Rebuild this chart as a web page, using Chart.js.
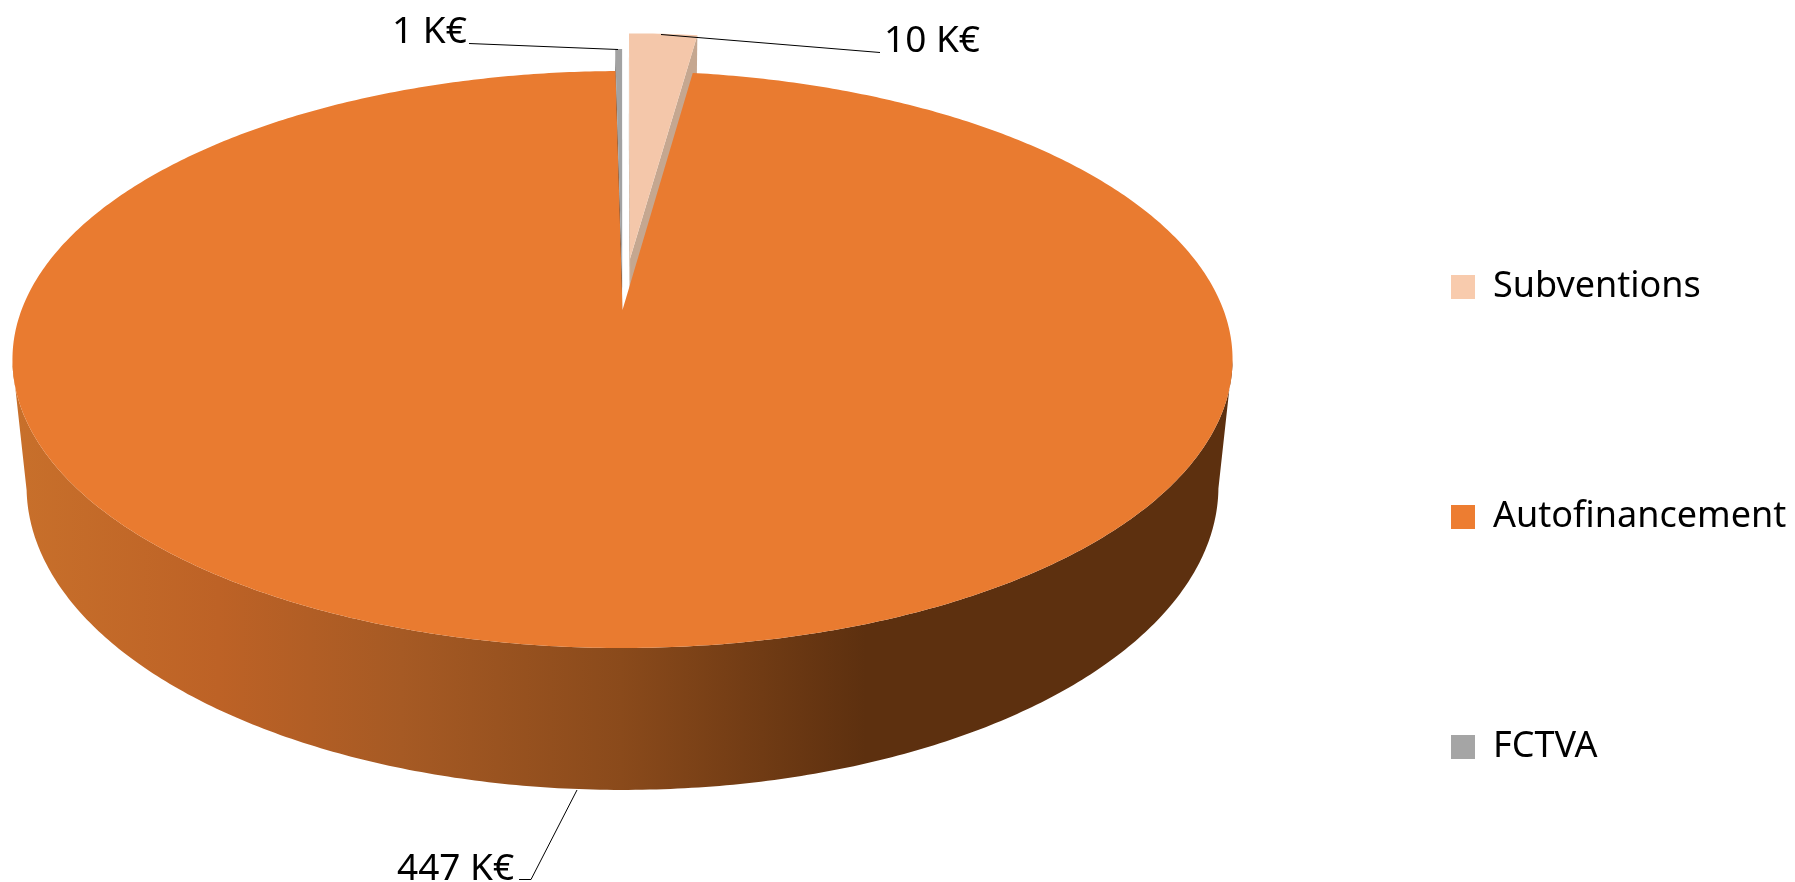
<!DOCTYPE html>
<html lang="fr">

<head>
  <meta charset="UTF-8" />
  <title>Financement</title>
  <script src="https://cdn.jsdelivr.net/npm/chart.js"></script>
  <style>
    * {
      margin: 0;
      padding: 0;
    }

    body {
      background: #fff;
      overflow: hidden;
    }

    canvas {
      display: block;
    }
  </style>
</head>

<body>
  <canvas id="pie" width="1795" height="882"></canvas>

  <script>
    const categories = ['Subventions', 'Autofinancement', 'FCTVA'];
    const amounts = [10, 447, 1];
    const unit = ' K€';

    const sliceColors = ['#f8cbad', '#ed7d31', '#a5a5a5'];
    const faceColors = ['#c5a790', '#000000', '#4a4a4a'];
    // exploded distance of each slice, in hundredths of the pie radius
    const explode = [19, 0, 11];

    // perspective of the disc: cx,cy = centre on screen, a,b = scale, p = depth
    // c,q = how far the lower face is moved down and back
    const view = { cx: 622.5, cy: 310, a: 601, b: 280, p: 0.1716, c: 128.6, q: 0.023 };

    function project(u, v, h) {
      const w = 1 + view.p * v + view.q * h;
      return [view.cx + view.a * u / w, view.cy - (view.b * v - view.c * h) / w];
    }

    class Arc3d extends Chart.ArcElement {
      static id = 'arc3d';

      draw(ctx) {
        const d = this.options.offset / 100;
        const mid = (this.startAngle + this.endAngle) / 2;
        const point = (angle, r, h) => project(
          d * Math.cos(mid) + r * Math.cos(angle),
          -d * Math.sin(mid) - r * Math.sin(angle), h);

        const steps = Math.max(2, Math.ceil((this.endAngle - this.startAngle) / 0.01));
        const angles = [];
        for (let i = 0; i <= steps; i++) {
          angles.push(this.startAngle + (this.endAngle - this.startAngle) * i / steps);
        }
        const fillPoly = (pts, style) => {
          ctx.beginPath();
          pts.forEach((pt, i) => (i ? ctx.lineTo(pt[0], pt[1]) : ctx.moveTo(pt[0], pt[1])));
          ctx.closePath();
          ctx.fillStyle = style;
          ctx.fill();
        };

        if (d > 0) {
          // the curved back of a pulled out slice faces away, only the cuts show
          const face = faceColors[this.$context.index];
          [this.startAngle, this.endAngle].forEach((angle) => {
            fillPoly([point(angle, 0, 0), point(angle, 1, 0), point(angle, 1, 1), point(angle, 0, 1)], face);
          });
        } else {
          // only the part of the wall turned to the viewer
          const front = angles.filter((angle) => Math.sin(angle) >= view.p);
          const wall = ctx.createLinearGradient(11, 0, 1231, 0);
          wall.addColorStop(0, '#c8702b');
          wall.addColorStop(0.17, '#bd6226');
          wall.addColorStop(0.32, '#a65a24');
          wall.addColorStop(0.5, '#8a4a1b');
          wall.addColorStop(0.7, '#5d300f');
          wall.addColorStop(1, '#5d300f');
          fillPoly(front.map((a) => point(a, 1, 0)).concat(front.map((a) => point(a, 1, 1)).reverse()), wall);
        }

        const top = [point(0, 0, 0)].concat(angles.map((a) => point(a, 1, 0)));
        fillPoly(top, this.options.backgroundColor);
        fillPoly(top, 'rgba(0,0,0,0.015)');
      }
    }

    class Pie3d extends Chart.PieController {
      static id = 'pie3d';
      static defaults = { dataElementType: 'arc3d' };

      // the pulled out slices sit behind the big one
      draw() {
        const arcs = [...this._cachedMeta.data].sort((a, b) => b.options.offset - a.options.offset);
        arcs.forEach((arc) => arc.draw(this.chart.ctx));
      }
    }

    Chart.register(Arc3d, Pie3d);

    const leaders = [
      { x: 884, y: 52, line: [[880, 52.5], [661, 34.5]] },
      { x: 397, y: 880, line: [[519, 879.5], [531, 879.5], [577, 790]] },
      { x: 392, y: 43, line: [[469, 43.5], [618, 49.5]] }
    ];

    const labelPlugin = {
      id: 'sliceLabels',
      afterLayout(chart) {
        chart.legend.left = 1451 - chart.options.plugins.legend.labels.padding;
        chart.legend.top = 72;
        chart.legend.bottom = 962;
      },
      afterDatasetsDraw(chart) {
        const ctx = chart.ctx;
        ctx.save();
        ctx.font = '37px "Noto Sans"';
        ctx.fillStyle = '#000';
        ctx.strokeStyle = '#000';
        ctx.lineWidth = 1;
        ctx.textBaseline = 'alphabetic';
        leaders.forEach((item, i) => {
          ctx.fillText(amounts[i] + unit, item.x, item.y);
          ctx.beginPath();
          item.line.forEach((pt, j) => (j ? ctx.lineTo(pt[0], pt[1]) : ctx.moveTo(pt[0], pt[1])));
          ctx.stroke();
        });
        ctx.restore();
      }
    };

    new Chart(document.getElementById('pie'), {
      type: 'pie3d',
      data: {
        labels: categories,
        datasets: [{
          data: amounts,
          backgroundColor: sliceColors,
          offset: explode,
          borderWidth: 0,
          clip: false
        }]
      },
      options: {
        responsive: false,
        animation: false,
        layout: { padding: { bottom: -40 } },
        plugins: {
          tooltip: { enabled: false },
          legend: {
            position: 'right',
            maxWidth: 400,
            labels: {
              boxWidth: 24,
              boxHeight: 24,
              padding: 194,
              color: '#000',
              font: { family: 'Noto Sans', size: 36 }
            }
          }
        }
      },
      plugins: [labelPlugin]
    });
  </script>
</body>

</html>
